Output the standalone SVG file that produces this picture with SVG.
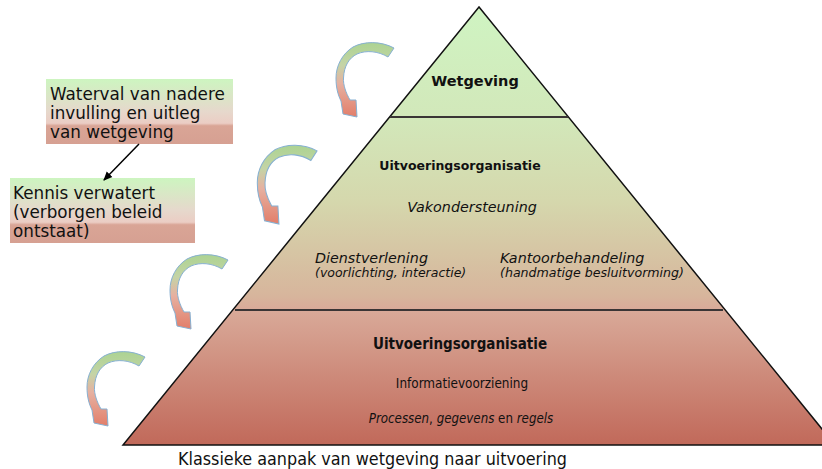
<svg xmlns="http://www.w3.org/2000/svg" width="822" height="469" viewBox="0 0 822 469">
<style>
.vd{font-family:"DejaVu Sans","Verdana",sans-serif;fill:#111}
.cd{font-family:"DejaVu Sans Condensed","DejaVu Sans",sans-serif;font-stretch:condensed;fill:#111}
.b{font-weight:bold}
.it{font-style:italic}
.mid{text-anchor:middle}
.div{stroke:#3a3535;stroke-width:2}
.curv{fill:url(#arrowGrad);stroke:#86b0d2;stroke-width:1}
.box{stroke:none}
</style>
<defs>
<linearGradient id="pyrGrad" gradientUnits="userSpaceOnUse" x1="0" y1="7" x2="0" y2="445">
<stop offset="0" stop-color="#cff4c2"/>
<stop offset="0.25" stop-color="#d2e8ba"/>
<stop offset="0.44" stop-color="#d5d8ad"/>
<stop offset="0.66" stop-color="#d7b59c"/>
<stop offset="0.69" stop-color="#d9aa99"/>
<stop offset="1" stop-color="#c1695a"/>
</linearGradient>
<linearGradient id="boxGrad" x1="0" y1="0" x2="0" y2="1">
<stop offset="0" stop-color="#cdf5c0"/>
<stop offset="0.5" stop-color="#e6d8cc"/>
<stop offset="0.68" stop-color="#ebcdc4"/>
<stop offset="0.72" stop-color="#d9a596"/>
<stop offset="1" stop-color="#d6a092"/>
</linearGradient>
<linearGradient id="arrowGrad" x1="0" y1="0" x2="0" y2="1">
<stop offset="0" stop-color="#acd392"/>
<stop offset="0.3" stop-color="#c4d4a6"/>
<stop offset="0.55" stop-color="#e6b0a0"/>
<stop offset="1" stop-color="#e27e6a"/>
</linearGradient>
<path id="curl" d="M68,15 C55,8 38,8 27,14 C16,21 10,33 10,45 C10,55 12,62 15,68 L17,81 L31,84 L30,67 L24,67 C20,60 17,52 17.5,45 C18,33 23,25 31,21 C40,17 52,18 62,24 Z"/>
<marker id="ah" markerWidth="10" markerHeight="10" refX="8" refY="5" orient="auto" markerUnits="userSpaceOnUse">
<path d="M0,1 L9,5 L0,9 Z" fill="#000"/>
</marker>
</defs>

<g id="pyramid">
<polygon points="479,7 123,445 835,445" fill="url(#pyrGrad)" stroke="#111" stroke-width="1.5"/>
<line class="div" x1="390" y1="117" x2="568" y2="117"/>
<line class="div" x1="235" y1="310" x2="723" y2="310"/>
</g>

<g id="level-wetgeving">
<text class="vd b mid" x="475" y="86" font-size="14.5">Wetgeving</text>
</g>

<g id="level-uitvoering-top">
<text class="vd b mid" x="460" y="170" font-size="12.5">Uitvoeringsorganisatie</text>
<text class="vd it mid" x="472" y="212" font-size="14.3">Vakondersteuning</text>
<text class="vd it" x="315" y="263" font-size="14.3">Dienstverlening</text>
<text class="vd it" x="315" y="277" font-size="12.5">(voorlichting, interactie)</text>
<text class="vd it" x="500" y="263" font-size="14.3">Kantoorbehandeling</text>
<text class="vd it" x="500" y="277" font-size="12.6">(handmatige besluitvorming)</text>
</g>

<g id="level-uitvoering-bottom">
<text class="cd b mid" x="460" y="349" font-size="15">Uitvoeringsorganisatie</text>
<text class="cd mid" x="462" y="388" font-size="13.4">Informatievoorziening</text>
<text class="cd mid" x="461" y="423" font-size="13.2"><tspan font-style="italic">Processen</tspan>, <tspan font-style="italic">gegevens</tspan> en <tspan font-style="italic">regels</tspan></text>
</g>

<g id="caption">
<text class="cd" x="178" y="465" font-size="17.8">Klassieke aanpak van wetgeving naar uitvoering</text>
</g>

<g id="box-waterval">
<rect class="box" x="46" y="79" width="187" height="65" fill="url(#boxGrad)"/>
<text class="vd" x="50" font-size="16.8"><tspan x="50" y="100">Waterval van nadere</tspan><tspan x="50" y="119">invulling en uitleg</tspan><tspan x="50" y="138">van wetgeving</tspan></text>
</g>

<g id="box-kennis">
<rect class="box" x="10" y="178" width="185" height="65" fill="url(#boxGrad)"/>
<text class="vd" x="13" font-size="16.8"><tspan x="13" y="199">Kennis verwatert</tspan><tspan x="13" y="218">(verborgen beleid</tspan><tspan x="13" y="237">ontstaat)</tspan></text>
</g>

<g id="connectors">
<line x1="139" y1="144" x2="104" y2="180" stroke="#000" stroke-width="1.5" marker-end="url(#ah)"/>
<use href="#curl" class="curv" transform="translate(326,33)"/>
<use href="#curl" class="curv" transform="translate(247,135) scale(1.03,1.06)"/>
<use href="#curl" class="curv" transform="translate(160,245)"/>
<use href="#curl" class="curv" transform="translate(77,342)"/>
</g>
</svg>
